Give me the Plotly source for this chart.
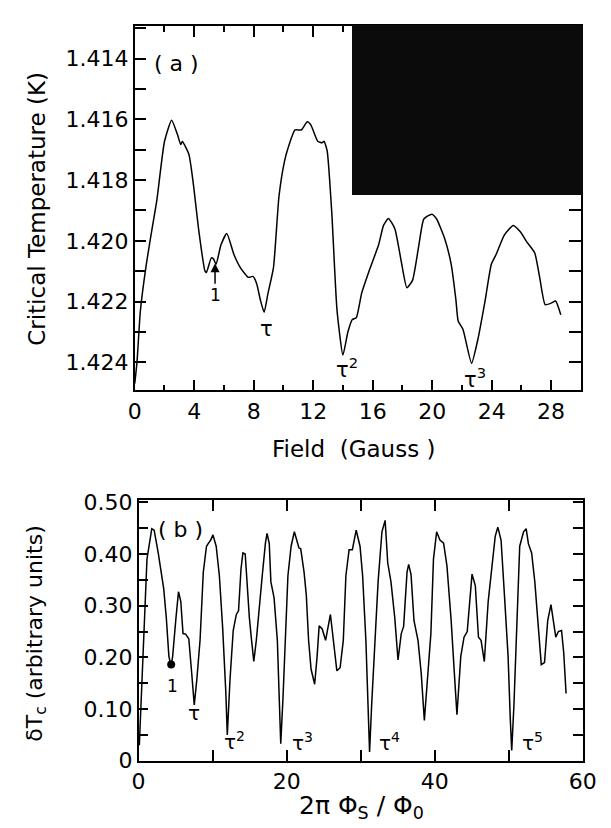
import plotly.graph_objects as go

# ---------------- Panel (a): critical temperature vs field ----------------
field_gauss = [0.0, 0.15, 0.38, 0.8, 1.2, 1.49, 2.0, 2.48, 2.88, 3.09, 3.2, 3.64, 3.96, 4.29,
               4.72, 4.82, 5.15, 5.3, 5.47, 5.8, 6.19, 6.67, 7.1, 7.64, 7.95, 8.2, 8.45, 8.7,
               8.96, 9.33, 9.7, 10.08, 10.3, 10.78, 11.2, 11.6, 11.85, 12.3, 12.6, 12.73,
               12.94, 13.25, 13.6, 14.0, 14.33, 14.63, 14.9, 15.26, 15.76, 16.4, 16.73, 17.06,
               17.49, 17.92, 18.3, 18.68, 19.11, 19.44, 19.98, 20.3, 20.84, 21.28, 21.6, 21.75,
               22.07, 22.65, 23.08, 23.55, 23.98, 24.3, 24.85, 25.45, 25.93, 26.36, 26.9,
               27.23, 27.6, 28.0, 28.3, 28.65]
tc_kelvin = [1.4247, 1.4240, 1.4223, 1.4207, 1.4195, 1.41865, 1.41673, 1.41603, 1.41651,
             1.41683, 1.41673, 1.41715, 1.4182, 1.4196, 1.42099, 1.42104, 1.42056, 1.4206,
             1.42077, 1.42013, 1.41976, 1.42045, 1.42088, 1.4212, 1.42117, 1.42141, 1.42195,
             1.42235, 1.42173, 1.42088, 1.41853, 1.41736, 1.41696, 1.41635, 1.41635, 1.41608,
             1.41619, 1.41672, 1.41677, 1.41672, 1.41704, 1.41907, 1.42227, 1.42376, 1.42301,
             1.42259, 1.42253, 1.42172, 1.42099, 1.42013, 1.41949, 1.41926, 1.4196, 1.42067,
             1.42154, 1.4213, 1.42013, 1.41928, 1.41912, 1.41928, 1.41992, 1.42077, 1.42195,
             1.42264, 1.42291, 1.42403, 1.42323, 1.42200, 1.42077, 1.42045, 1.41981, 1.41949,
             1.4197, 1.42003, 1.4204, 1.4212, 1.4221, 1.42205, 1.42198, 1.42243]

a_ytick_vals = [1.414, 1.416, 1.418, 1.420, 1.422, 1.424]
a_ytick_text = ["1.414", "1.416", "1.418", "1.420", "1.422", "1.424"]
a_xtick_vals = [0, 4, 8, 12, 16, 20, 24, 28]
a_xtick_text = ["0", "4", "8", "12", "16", "20", "24", "28"]

# ---------------- Panel (b): delta Tc vs 2 pi Phi_s / Phi_0 ----------------
phase = [0.1, 0.4, 0.7, 1.13, 1.78, 2.1, 2.65, 3.09, 3.39, 3.74, 4.09, 4.39, 4.6, 5.05, 5.39,
         5.7, 6.0, 6.35, 6.78, 7.13, 7.52, 7.87, 8.3, 8.74, 9.17, 9.4, 9.74, 10.04, 10.48,
         10.91, 11.35, 11.78, 11.98, 12.35, 12.78, 13.2, 13.5, 13.83, 14.09, 14.4, 14.7,
         14.96, 15.26, 15.56, 15.9, 16.26, 16.7, 17.13, 17.35, 17.65, 17.87, 18.3, 18.74,
         19.0, 19.2, 19.5, 19.83, 20.17, 20.6, 21.04, 21.3, 21.65, 21.9, 22.35, 22.65, 22.96,
         23.3, 23.78, 24.1, 24.39, 24.8, 25.26, 25.91, 26.35, 26.78, 27.22, 27.65, 28.0,
         28.43, 28.87, 29.39, 29.91, 30.26, 30.7, 31.04, 31.2, 31.48, 31.91, 32.35, 32.87,
         33.3, 33.65, 34.09, 34.6, 35.04, 35.48, 35.8, 36.26, 36.48, 36.8, 37.2, 37.74,
         38.17, 38.6, 39.04, 39.48, 39.83, 40.26, 40.7, 41.2, 41.65, 42.22, 42.65, 43.0,
         43.52, 43.96, 44.39, 44.7, 45.04, 45.48, 45.91, 46.26, 46.7, 47.22, 47.74, 48.17,
         48.52, 48.96, 49.39, 49.91, 50.2, 50.4, 50.7, 51.04, 51.48, 52.0, 52.35, 52.65,
         53.09, 53.52, 53.96, 54.39, 54.83, 55.26, 55.7, 55.96, 56.35, 56.7, 57.13, 57.43,
         57.74]
delta_tc = [0.03, 0.14, 0.258, 0.39, 0.449, 0.446, 0.402, 0.358, 0.333, 0.277, 0.202, 0.183,
            0.202, 0.277, 0.327, 0.308, 0.246, 0.245, 0.236, 0.177, 0.108, 0.158, 0.233,
            0.365, 0.415, 0.42, 0.427, 0.437, 0.415, 0.358, 0.258, 0.133, 0.05, 0.158, 0.252,
            0.283, 0.29, 0.371, 0.402, 0.4, 0.333, 0.277, 0.233, 0.192, 0.233, 0.296, 0.358,
            0.421, 0.44, 0.42, 0.346, 0.315, 0.233, 0.12, 0.033, 0.12, 0.233, 0.358, 0.415,
            0.443, 0.43, 0.412, 0.41, 0.365, 0.321, 0.233, 0.177, 0.148, 0.2, 0.261, 0.255,
            0.233, 0.283, 0.233, 0.174, 0.18, 0.233, 0.358, 0.408, 0.408, 0.446, 0.415, 0.358,
            0.233, 0.108, 0.017, 0.108, 0.233, 0.346, 0.443, 0.465, 0.383, 0.346, 0.277,
            0.195, 0.246, 0.26, 0.365, 0.38, 0.36, 0.271, 0.233, 0.17, 0.078, 0.17, 0.246,
            0.39, 0.443, 0.427, 0.421, 0.377, 0.271, 0.17, 0.089, 0.202, 0.239, 0.25, 0.308,
            0.361, 0.339, 0.239, 0.233, 0.192, 0.308, 0.377, 0.434, 0.452, 0.427, 0.327,
            0.202, 0.083, 0.02, 0.108, 0.233, 0.415, 0.443, 0.449, 0.42, 0.402, 0.346, 0.258,
            0.186, 0.19, 0.271, 0.302, 0.28, 0.239, 0.25, 0.252, 0.208, 0.13]
marker_phase = [4.4]
marker_dtc = [0.186]

b_ytick_vals = [0, 0.1, 0.2, 0.3, 0.4, 0.5]
b_ytick_text = ["0", "0.10", "0.20", "0.30", "0.40", "0.50"]
b_xtick_vals = [0, 20, 40, 60]
b_xtick_text = ["0", "20", "40", "60"]

W, H = 611, 828
FONT = "DejaVu Sans"

def px(x):
    return x / W

def py(y):
    return 1 - y / H

fig = go.Figure()
fig.add_trace(go.Scatter(x=field_gauss, y=tc_kelvin, mode="lines",
                         line=dict(color="black", width=1.5, shape="spline", smoothing=0.5),
                         xaxis="x", yaxis="y", showlegend=False, hoverinfo="skip"))
fig.add_trace(go.Scatter(x=phase, y=delta_tc, mode="lines",
                         line=dict(color="black", width=1.5),
                         xaxis="x2", yaxis="y2", showlegend=False, hoverinfo="skip"))
fig.add_trace(go.Scatter(x=marker_phase, y=marker_dtc, mode="markers",
                         marker=dict(color="black", size=8),
                         xaxis="x2", yaxis="y2", showlegend=False, hoverinfo="skip"))

axis_common = dict(showline=True, linecolor="black", linewidth=1.5, mirror="ticks",
                   ticks="inside", tickcolor="black", tickwidth=1.5, showgrid=False,
                   zeroline=False, tickfont=dict(family=FONT, size=22, color="black"))

fig.update_layout(
    width=W, height=H,
    margin=dict(l=0, r=0, t=0, b=0),
    paper_bgcolor="white", plot_bgcolor="white",
    xaxis=dict(domain=[px(124), px(586)], range=[0, 30], anchor="y",
               tickvals=a_xtick_vals, ticktext=a_xtick_text, ticklen=11,
               minor=dict(dtick=2, tick0=0, ticklen=6, ticks="inside", tickcolor="black",
                          tickwidth=1.5),
               **axis_common),
    yaxis=dict(domain=[py(383), py(8)], range=[1.42492, 1.41292], anchor="x",
               tickvals=a_ytick_vals, ticktext=a_ytick_text, ticklen=12,
               minor=dict(dtick=0.001, tick0=1.414, ticklen=12, ticks="inside",
                          tickcolor="black", tickwidth=1.5),
               **axis_common),
    xaxis2=dict(domain=[px(128), px(588)], range=[0, 60], anchor="y2",
                tickvals=b_xtick_vals, ticktext=b_xtick_text, ticklen=11,
                minor=dict(dtick=10, tick0=0, ticklen=11, ticks="inside", tickcolor="black",
                           tickwidth=1.5),
                **axis_common),
    yaxis2=dict(domain=[py(764), py(496)], range=[0, 0.504], anchor="x2",
                tickvals=b_ytick_vals, ticktext=b_ytick_text, ticklen=10,
                minor=dict(dtick=0.05, tick0=0, ticklen=10, ticks="inside",
                           tickcolor="black", tickwidth=1.5),
                **axis_common),
)

# dark inset block in panel (a)
fig.add_shape(type="rect", xref="paper", yref="paper",
              x0=px(349), x1=px(588), y0=py(182), y1=py(7),
              fillcolor="#0b0b0b", line=dict(width=0), layer="above")

ann = []
def txt(x, y, text, size=20, xref="x", yref="y", angle=0):
    ann.append(dict(x=x, y=y, xref=xref, yref=yref, text=text, showarrow=False,
                    textangle=angle, font=dict(family=FONT, size=size, color="black"),
                    xanchor="center", yanchor="middle"))

# panel (a) labels
txt(2.8, 1.41417, "( a )", 22)
txt(8.83, 1.42291, "τ", 21)
txt(14.25, 1.42419, "τ<sup>2</sup>", 21)
txt(22.9, 1.42452, "τ<sup>3</sup>", 21)
ann.append(dict(x=5.4, y=1.42074, xref="x", yref="y", text="1", showarrow=True,
                arrowhead=2, arrowsize=1.2, arrowwidth=1.5, arrowcolor="black",
                ax=0, ay=32, font=dict(family=FONT, size=17, color="black")))
# panel (b) labels
txt(5.6, 0.447, "( b )", 22, "x2", "y2")
txt(4.6, 0.145, "1", 17, "x2", "y2")
txt(7.43, 0.092, "τ", 20, "x2", "y2")
txt(12.95, 0.039, "τ<sup>2</sup>", 20, "x2", "y2")
txt(22.1, 0.036, "τ<sup>3</sup>", 20, "x2", "y2")
txt(33.9, 0.036, "τ<sup>4</sup>", 20, "x2", "y2")
txt(53.2, 0.036, "τ<sup>5</sup>", 20, "x2", "y2")

# axis titles
txt(px(22), py(196), "Critical Temperature (K)", 23, "paper", "paper", -90)
txt(px(351), py(443), "Field\u00a0 (Gauss )", 23, "paper", "paper")
txt(px(22), py(633), "δT<sub>c</sub> (arbitrary units)", 22, "paper", "paper", -90)
txt(px(359), py(812), "2π Φ<sub>S</sub> / Φ<sub>0</sub>", 25, "paper", "paper")

fig.update_layout(annotations=ann)
fig.write_html("out.html")
